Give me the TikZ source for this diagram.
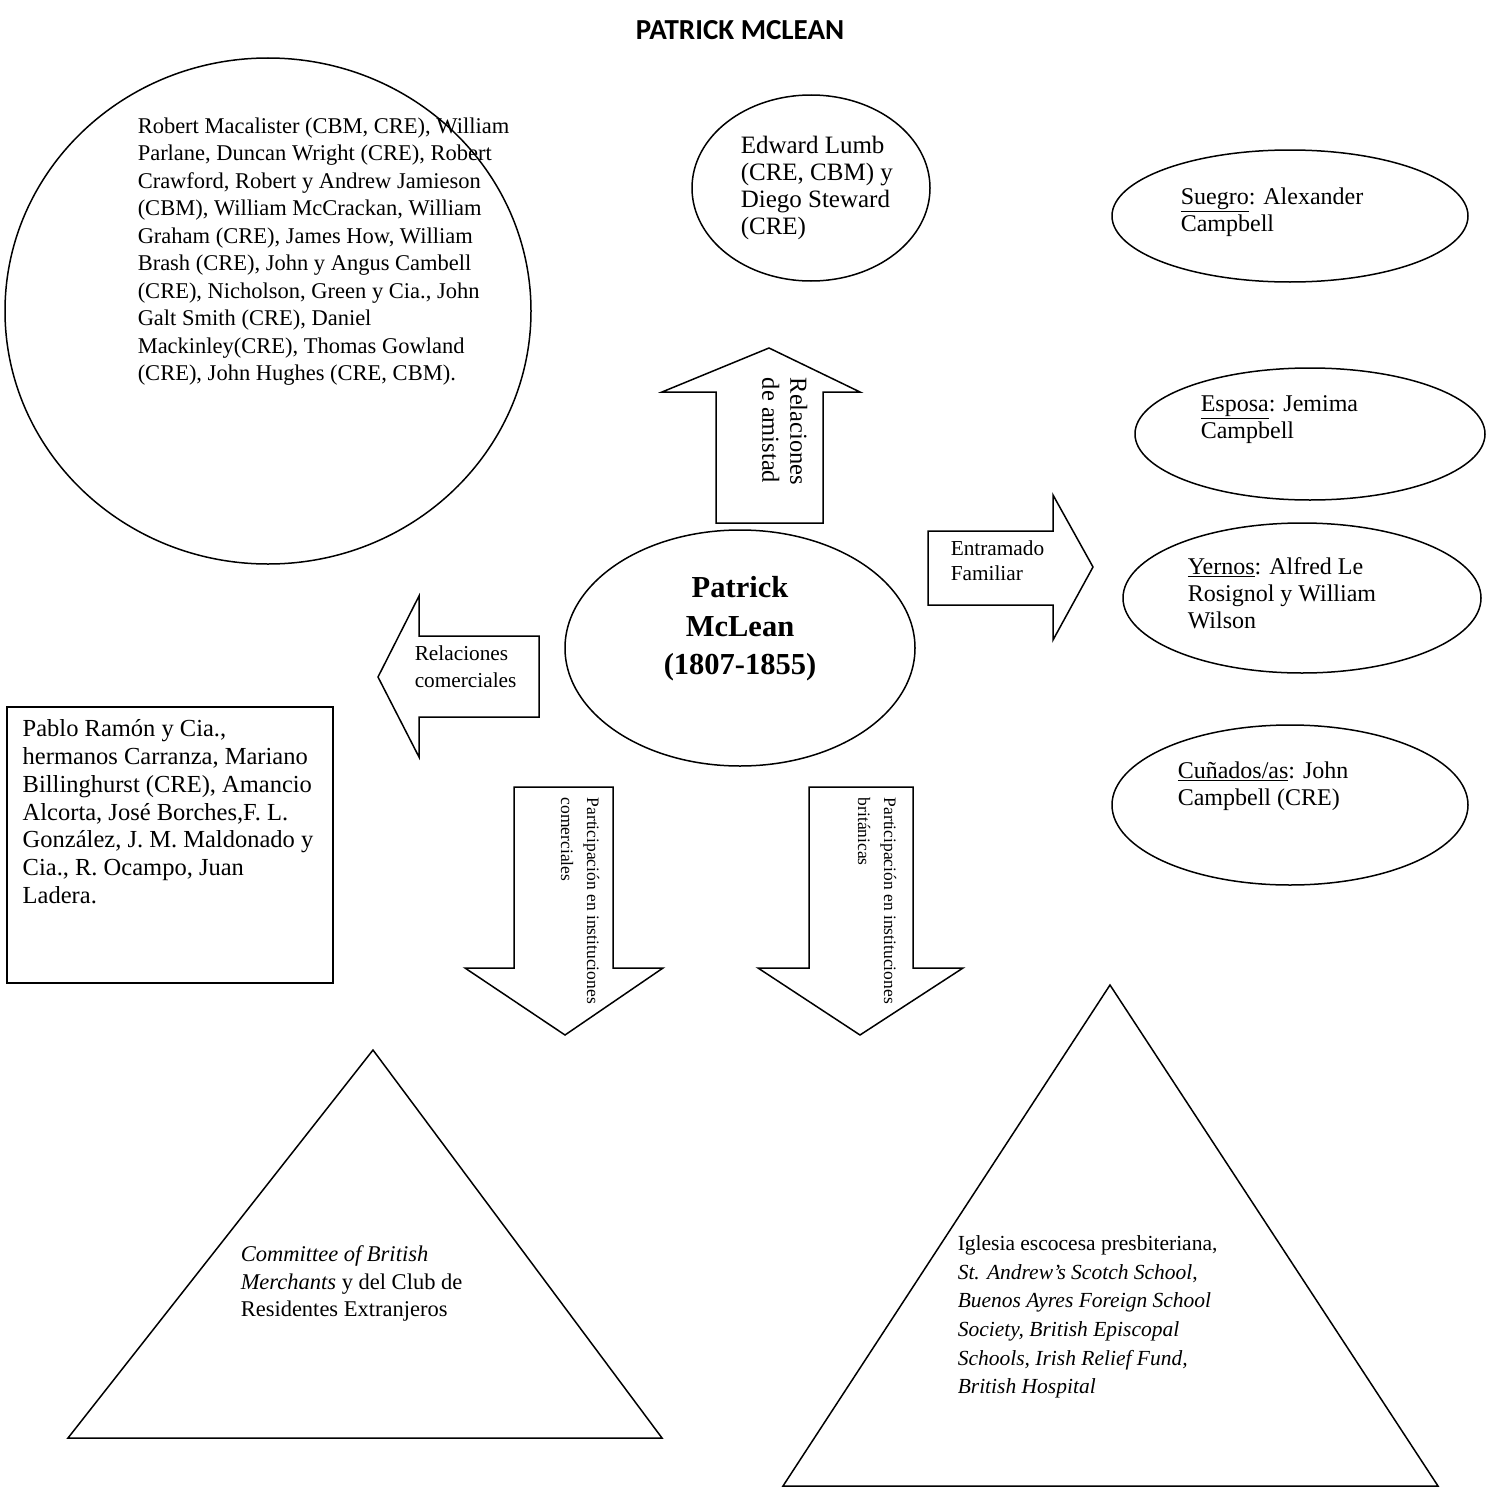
\documentclass[tikz,border=0pt]{standalone}
\usepackage{fontspec}
\setmainfont{Liberation Serif}[ItalicFont={Liberation Serif Italic},BoldFont={Liberation Serif Bold},BoldItalicFont={Liberation Serif Bold Italic}]
\newfontfamily\titlefont{Carlito}
\usetikzlibrary{shapes.geometric}
\begin{document}
\begin{tikzpicture}[x=1pt,y=-1pt,line width=1.5pt,
  oval/.style={draw,ellipse,inner sep=0},
  txt/.style={inner sep=0,anchor=north west,align=left,font=\fontsize{24}{27}\selectfont},
  small/.style={inner sep=0,anchor=north west,align=left,font=\fontsize{21.3}{26}\selectfont},
  rottxt/.style={inner sep=0,anchor=north west,align=left,rotate=-90},
  shapeline/.style={draw,line join=miter}]
\useasboundingbox (0,0) rectangle (1500,1488);

% title
\node[inner sep=0] (title) at (740,30) {\titlefont\bfseries\fontsize{29}{32}\selectfont PATRICK MCLEAN};

% big ellipse of friends/merchants
\node[oval,minimum width=526,minimum height=506] (friends) at (268,311) {};
\node[txt,font=\fontsize{22.5}{27.5}\selectfont] (friendstxt) at (137,117) {Robert Macalister (CBM, CRE), William\\Parlane, Duncan Wright (CRE), Robert\\Crawford, Robert y Andrew Jamieson\\(CBM), William McCrackan, William\\Graham (CRE), James How, William\\Brash (CRE), John y Angus Cambell\\(CRE), Nicholson, Green y Cia., John\\Galt Smith (CRE), Daniel\\Mackinley(CRE), Thomas Gowland\\(CRE), John Hughes (CRE, CBM).};

% Edward Lumb ellipse
\node[oval,minimum width=238,minimum height=186] (amigos) at (811,188) {};
\node[txt,font=\fontsize{25}{27}\selectfont] (amigostxt) at (740,135) {Edward Lumb\\(CRE, CBM) y\\Diego Steward\\(CRE)};

% family ellipses
\node[oval,minimum width=356,minimum height=132] (suegro) at (1290,216) {};
\node[txt] (suegrotxt) at (1180,187) {\underline{Suegro}: Alexander\\Campbell};
\node[oval,minimum width=350,minimum height=132] (esposa) at (1310,434) {};
\node[txt] (esposatxt) at (1200,395) {\underline{Esposa}: Jemima\\Campbell};
\node[oval,minimum width=358,minimum height=150] (yernos) at (1302,598) {};
\node[txt] (yernostxt) at (1187,557) {\underline{Yernos}: Alfred Le\\Rosignol y William\\Wilson};
\node[oval,minimum width=356,minimum height=160] (cunados) at (1290,805) {};
\node[txt] (cunadostxt) at (1177,761) {\underline{Cuñados/as}: John\\Campbell (CRE)};

% central ellipse
\node[oval,minimum width=350,minimum height=236] (center) at (740,648) {};
\node[inner sep=0,align=center,font=\bfseries\fontsize{30.5}{38.5}\selectfont] (centertxt) at (740,629) {Patrick\\McLean\\(1807-1855)};

% up arrow
\draw[shapeline] (716,523) -- (716,392) -- (662,392) -- (769,348) -- (860,392) -- (823,392) -- (823,523) -- cycle;
\node[rottxt,font=\fontsize{24.5}{28}\selectfont] (uptxt) at (808,377) {Relaciones\\de amistad};

% right arrow
\draw[shapeline] (928,531) -- (1053,531) -- (1053,495) -- (1093,567) -- (1053,640) -- (1053,605) -- (928,605) -- cycle;
\node[small,font=\fontsize{21.3}{25}\selectfont] (righttxt) at (950,540) {Entramado\\Familiar};

% left arrow
\draw[shapeline] (539,636) -- (419,636) -- (419,596) -- (378,677) -- (419,757) -- (419,717) -- (539,717) -- cycle;
\node[small,font=\fontsize{21.3}{27}\selectfont] (lefttxt) at (414,645) {Relaciones\\comerciales};

% down arrows
\draw[shapeline] (514,787) -- (613,787) -- (613,968) -- (663,968) -- (565,1035) -- (465,968) -- (514,968) -- cycle;
\node[rottxt,font=\fontsize{17.5}{26}\selectfont] (downltxt) at (600,797) {Participación en instituciones\\comerciales};
\draw[shapeline] (809,787) -- (913,787) -- (913,968) -- (963,968) -- (860,1035) -- (758,968) -- (809,968) -- cycle;
\node[rottxt,font=\fontsize{17.5}{26}\selectfont] (downrtxt) at (897,797) {Participación en instituciones\\británicas};

% left box
\node[draw,rectangle,minimum width=326,minimum height=276,inner sep=0] (box) at (170,845) {};
\node[txt,font=\fontsize{24.5}{27.8}\selectfont] (boxtxt) at (22,719) {Pablo Ramón y Cia.,\\hermanos Carranza, Mariano\\Billinghurst (CRE), Amancio\\Alcorta, José Borches,F. L.\\González, J. M. Maldonado y\\Cia., R. Ocampo, Juan\\Ladera.};

% triangles
\draw[shapeline] (373,1050) -- (662,1438) -- (68,1438) -- cycle;
\node[txt,font=\fontsize{22.5}{27.5}\selectfont] (tri1txt) at (240,1245) {\textit{Committee of British}\\\textit{Merchants} y del Club de\\Residentes Extranjeros};
\draw[shapeline] (1110,985) -- (1438,1486) -- (783,1486) -- cycle;
\node[txt,font=\fontsize{21.5}{28.6}\selectfont] (tri2txt) at (957,1235) {Iglesia escocesa presbiteriana,\\\textit{St. Andrew’s Scotch School},\\\textit{Buenos Ayres Foreign School}\\\textit{Society, British Episcopal}\\\textit{Schools, Irish Relief Fund,}\\\textit{British Hospital}};
\end{tikzpicture}
\end{document}
